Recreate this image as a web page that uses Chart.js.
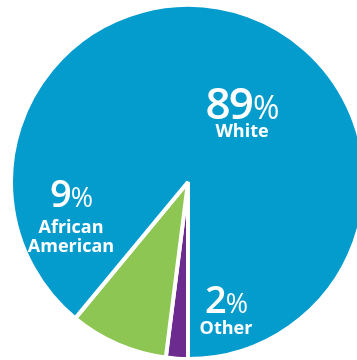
<!DOCTYPE html>
<html>
<head>
<meta charset="utf-8">
<script src="https://cdn.jsdelivr.net/npm/chart.js@4.4.1/dist/chart.umd.min.js"></script>
<style>
  html, body { margin: 0; padding: 0; background: #fff; }
  body { width: 357px; height: 360px; overflow: hidden; position: relative; }
  #wrap { position: absolute; left: 9px; top: 3px; width: 358px; height: 358px; }
</style>
</head>
<body>
<div id="wrap"><canvas id="pie" width="358" height="358"></canvas></div>
<script>
// Race breakdown, share in percent (order = clockwise from 6 o'clock)
const categories = ['Other', 'African American', 'White'];
const shares = [2, 9, 89];

const sliceColors = ['#6c2b8e', '#8dc653', '#049bcd'];

// label placement, px offset from pie centre: number centre x / baseline, then label baselines
const labelSpots = {
  'White':            { x: 54,   y: -63, size: 44, lines: [-45] },
  'African American': { x: -117, y: 25,  size: 38, lines: [51, 70], split: ['African', 'American'] },
  'Other':            { x: 38,   y: 131, size: 38, lines: [152] }
};

const labelPlugin = {
  id: 'sliceLabels',
  afterDraw(chart) {
    const ctx = chart.ctx;
    const arc = chart.getDatasetMeta(0).data[0];
    const cx = arc.x, cy = arc.y;
    ctx.save();
    ctx.fillStyle = '#fff';
    ctx.textBaseline = 'alphabetic';
    categories.forEach((cat, i) => {
      const s = labelSpots[cat];
      const num = String(shares[i]);
      const pctSize = Math.round(s.size * 0.72);
      ctx.font = '600 ' + s.size + 'px "Open Sans"';
      ctx.letterSpacing = '-2px';
      const wNum = ctx.measureText(num).width;
      ctx.letterSpacing = '0px';
      ctx.font = '400 ' + pctSize + 'px "Open Sans"';
      const wPct = ctx.measureText('%').width;
      const left = cx + s.x - (wNum + wPct) / 2;
      ctx.textAlign = 'left';
      ctx.font = '600 ' + s.size + 'px "Open Sans"';
      ctx.letterSpacing = '-2px';
      ctx.fillText(num, left, cy + s.y);
      ctx.letterSpacing = '0px';
      ctx.font = '400 ' + pctSize + 'px "Open Sans"';
      ctx.fillText('%', left + wNum + 1, cy + s.y);
      ctx.textAlign = 'center';
      ctx.font = '700 18px "Open Sans"';
      const parts = s.split || [cat];
      parts.forEach((t, k) => ctx.fillText(t, cx + s.x, cy + s.lines[k]));
    });
    ctx.restore();
  }
};

new Chart(document.getElementById('pie'), {
  type: 'pie',
  data: {
    labels: categories,
    datasets: [{
      data: shares,
      backgroundColor: sliceColors,
      borderColor: '#ffffff',
      borderWidth: 4
    }]
  },
  options: {
    responsive: false,
    animation: false,
    rotation: 180,
    layout: { padding: 0 },
    plugins: { legend: { display: false }, tooltip: { enabled: false } }
  },
  plugins: [labelPlugin]
});
</script>
</body>
</html>
